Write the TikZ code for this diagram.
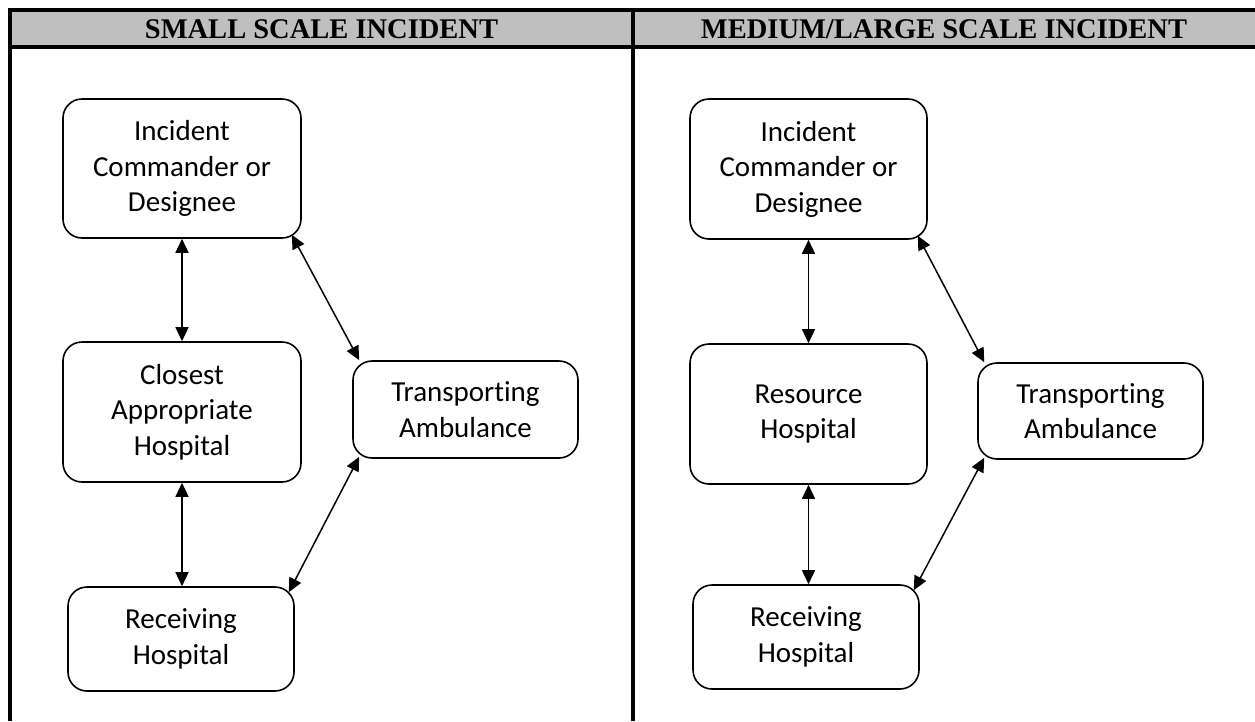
\documentclass[tikz,border=0pt]{standalone}
\usepackage{fontspec}
\setmainfont{Carlito}[Ligatures=NoCommon]
\newfontfamily\hdrfont{Liberation Serif}
\usetikzlibrary{arrows.meta,calc}
\definecolor{hdrgray}{RGB}{191,191,191}
\begin{document}
\begin{tikzpicture}[x=1pt,y=-1pt,
  box/.style={draw, line width=1.6pt, rounded corners=19pt, align=center, inner sep=0pt,
    font=\fontsize{29}{35.5}\selectfont},
  link/.style={line width=1.5pt, {Triangle[length=14pt,width=13pt]}-{Triangle[length=14pt,width=13pt]}},
  hdr/.style={font=\hdrfont\bfseries\fontsize{28.5}{32}\selectfont},
  rule/.style={line width=4.5pt}]
\useasboundingbox (0,0) rectangle (1255,721);
% table
\fill[hdrgray] (10,10) rectangle (1255,47);
\draw[rule] (8,10) -- (1255,10);
\draw[rule] (8,47) -- (1255,47);
\draw[rule] (10,8) -- (10,721);
\draw[rule] (633,8) -- (633,721);
\node[hdr] (h1) at (321.5,29) {SMALL SCALE INCIDENT};
\node[hdr] (h2) at (944,29) {MEDIUM/LARGE SCALE INCIDENT};
% left panel
\node[box, minimum width=238pt, minimum height=139pt] (ic1) at (182,168.5) {Incident\\Commander or\\Designee};
\node[box, minimum width=238pt, minimum height=140pt] (ch1) at (182,412) {Closest\\Appropriate\\Hospital};
\node[box, minimum width=226pt, minimum height=104pt] (rh1) at (181,639) {Receiving\\Hospital};
\node[box, minimum width=225pt, minimum height=97pt] (ta1) at (465.5,409.5) {Transporting\\Ambulance};
% right panel
\node[box, minimum width=237pt, minimum height=140pt] (ic2) at (808.5,169) {Incident\\Commander or\\Designee};
\node[box, minimum width=237pt, minimum height=140pt] (res) at (808.5,414) {Resource\\Hospital};
\node[box, minimum width=226pt, minimum height=104pt] (rh2) at (806,637) {Receiving\\Hospital};
\node[box, minimum width=225pt, minimum height=96pt] (ta2) at (1090.5,411) {Transporting\\Ambulance};
% connectors left
\draw[link] (ic1.south) -- (ic1.south |- ch1.north);
\draw[link] (ch1.south) -- (ch1.south |- rh1.north);
\draw[link] ($(ic1.south east)+(-10,-4)$) -- ($(ta1.north west)+(7,0)$);
\draw[link] ($(ta1.south west)+(7,-2)$) -- ($(rh1.north east)+(-6,6)$);
% connectors right
\draw[link] (ic2.south) -- (ic2.south |- res.north);
\draw[link] (res.south) -- (res.south |- rh2.north);
\draw[link] ($(ic2.south east)+(-10,-4)$) -- ($(ta2.north west)+(7,0)$);
\draw[link] ($(ta2.south west)+(7,-2)$) -- ($(rh2.north east)+(-6,6)$);
\end{tikzpicture}
\end{document}
